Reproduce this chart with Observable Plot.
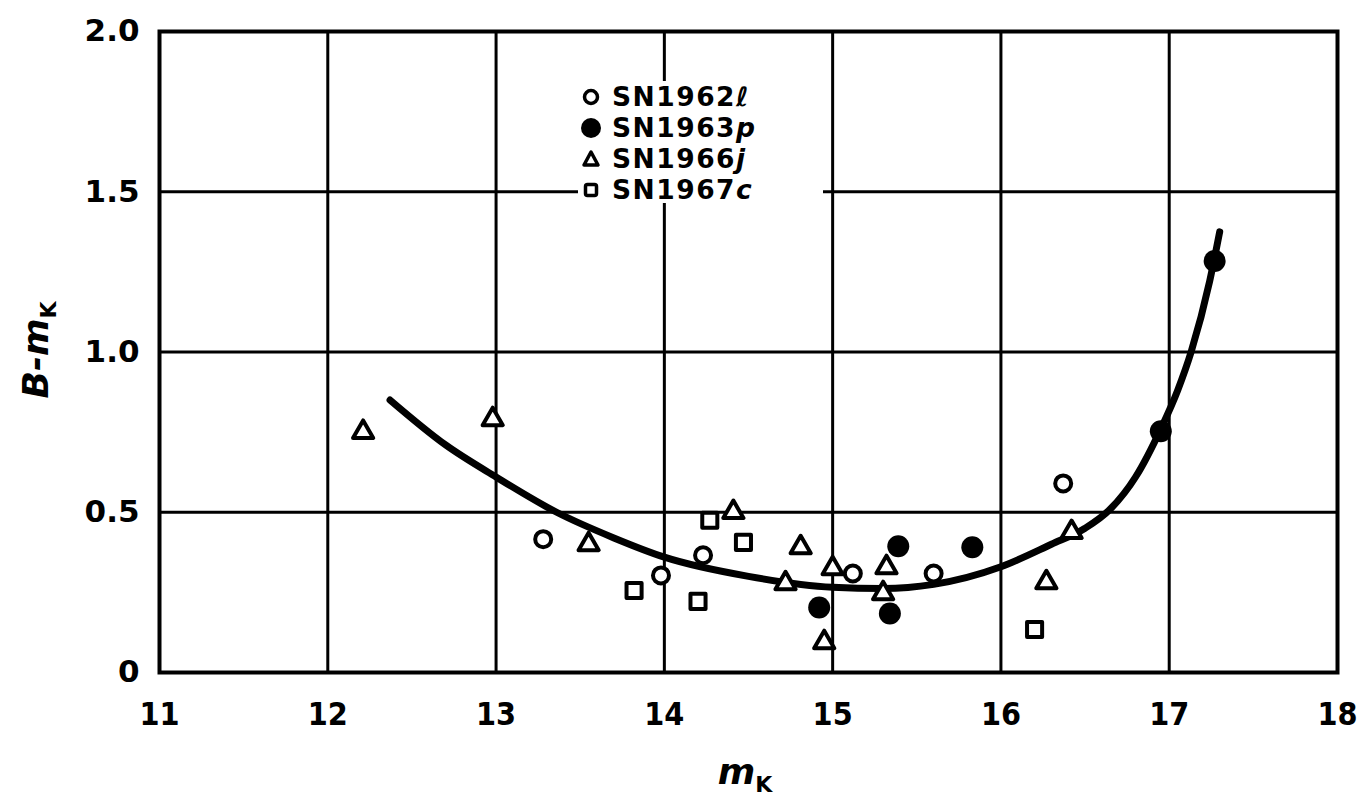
<!DOCTYPE html>
<html><head><meta charset="utf-8">
<script src="https://cdn.jsdelivr.net/npm/d3@7"></script>
<script src="https://cdn.jsdelivr.net/npm/@observablehq/plot@0.6"></script>
<style>
body{margin:0;background:#fff;}
#wrap{position:relative;width:1365px;height:802px;overflow:hidden;font-family:"DejaVu Sans",sans-serif;}
#wrap > svg{position:absolute;left:0;top:0;}
.ylab{position:absolute;left:36px;top:350px;transform:translate(-50%,-50%) rotate(-90deg);font:italic bold 36px "DejaVu Sans";line-height:40px;white-space:nowrap;}
.xlab{position:absolute;left:745px;top:772px;transform:translate(-50%,-50%);font:italic bold 36px "DejaVu Sans";line-height:40px;white-space:nowrap;}
.xlab sub,.ylab sub{font-size:22px;font-style:normal;line-height:0;}
#legend{position:absolute;left:578px;top:81px;width:245px;height:122px;background:#fff;}
.row{display:flex;align-items:center;height:31px;font:bold 26.5px "DejaVu Sans";line-height:30px;letter-spacing:1.5px;white-space:nowrap;}
#legend .row svg{position:static;display:block;width:26px;height:26px;margin-right:8px;flex:none;}
</style>
</head><body><div id="wrap"></div>
<script>
// Data
const xTicks = [11, 12, 13, 14, 15, 16, 17, 18];
const yTicks = [0, 0.5, 1.0, 1.5, 2.0];

const sn1962l_x = [13.28, 13.98, 14.23, 15.12, 15.60, 16.37];
const sn1962l_y = [0.416, 0.303, 0.366, 0.309, 0.309, 0.59];

const sn1963p_x = [14.92, 15.34, 15.39, 15.83, 16.95, 17.27];
const sn1963p_y = [0.203, 0.184, 0.394, 0.391, 0.753, 1.284];

const sn1966j_x = [12.21, 12.98, 13.55, 14.41, 14.72, 14.81, 14.95, 15.00, 15.30, 15.32, 16.27, 16.42];
const sn1966j_y = [0.75, 0.79, 0.40, 0.50, 0.278, 0.39, 0.094, 0.325, 0.247, 0.328, 0.281, 0.4375];

const sn1967c_x = [13.82, 14.20, 14.27, 14.47, 16.20];
const sn1967c_y = [0.256, 0.222, 0.475, 0.406, 0.134];

const curve_x = [12.37, 12.7, 13.0, 13.36, 13.7, 14.0, 14.5, 15.0, 15.3, 15.6, 16.0, 16.3, 16.5, 16.65, 16.8, 16.95, 17.05, 17.13, 17.24, 17.30];
const curve_y = [0.85, 0.71, 0.61, 0.50, 0.42, 0.36, 0.30, 0.266, 0.262, 0.275, 0.33, 0.40, 0.45, 0.51, 0.61, 0.76, 0.88, 1.0, 1.22, 1.375];

const legendLabels = [["SN1962", "ℓ"], ["SN1963", "p"], ["SN1966", "j"], ["SN1967", "c"]];

const toRows = (xs, ys) => xs.map((x, i) => ({x, y: ys[i]}));
const open = toRows(sn1962l_x, sn1962l_y);
const filled = toRows(sn1963p_x, sn1963p_y);
const tri = toRows(sn1966j_x, sn1966j_y);
const sq = toRows(sn1967c_x, sn1967c_y);
const fit = toRows(curve_x, curve_y);

const chart = Plot.plot({
  width: 1365, height: 802,
  marginLeft: 159, marginRight: 28, marginTop: 31, marginBottom: 130,
  style: {background: "white", color: "black"},
  x: {domain: [11, 18], ticks: xTicks},
  y: {domain: [0, 2], ticks: yTicks},
  marks: [
    Plot.gridX(xTicks, {stroke: "black", strokeOpacity: 1, strokeWidth: 3}),
    Plot.gridY(yTicks, {stroke: "black", strokeOpacity: 1, strokeWidth: 3}),
    Plot.frame({stroke: "black", strokeWidth: 4}),
    Plot.axisX(xTicks, {tickSize: 0, tickPadding: 30, fontSize: 32, fontWeight: "bold", label: null,
      fontFamily: "DejaVu Sans Condensed", tickFormat: d => String(d)}),
    Plot.axisY(yTicks, {tickSize: 0, tickPadding: 20, fontSize: 31, fontWeight: "bold", label: null,
      fontFamily: "DejaVu Sans", tickFormat: d => d === 0 ? "0" : d.toFixed(1)}),
    Plot.line(fit, {x: "x", y: "y", curve: "monotone-x", stroke: "black", strokeWidth: 7, strokeLinecap: "round"}),
    Plot.dot(open, {x: "x", y: "y", symbol: "circle", r: 8, fill: "white", stroke: "black", strokeWidth: 4}),
    Plot.dot(filled, {x: "x", y: "y", symbol: "circle", r: 11, fill: "black", stroke: "none"}),
    Plot.dot(tri, {x: "x", y: "y", symbol: "triangle", r: 7.5, fill: "white", stroke: "black", strokeWidth: 4, strokeLinejoin: "round"}),
    Plot.dot(sq, {x: "x", y: "y", symbol: "square", r: 8.5, fill: "white", stroke: "black", strokeWidth: 4, strokeLinejoin: "round"})
  ]
});

const wrap = document.getElementById("wrap");
wrap.appendChild(chart);

const yl = document.createElement("div");
yl.className = "ylab";
yl.innerHTML = "<i>B</i>-<i>m</i><sub>K</sub>";
wrap.appendChild(yl);
const xl = document.createElement("div");
xl.className = "xlab";
xl.innerHTML = "<i>m</i><sub>K</sub>";
wrap.appendChild(xl);

// Legend
const symbols = [
  '<circle cx="13" cy="13" r="6.5" fill="white" stroke="black" stroke-width="3.5"/>',
  '<circle cx="13" cy="13" r="10" fill="black"/>',
  '<path d="M13,6 L20,19 L6,19 Z" fill="white" stroke="black" stroke-width="3.5" stroke-linejoin="round"/>',
  '<rect x="7.5" y="7.5" width="11" height="11" rx="2" fill="white" stroke="black" stroke-width="3.5"/>'
];
const legend = document.createElement("div");
legend.id = "legend";
legendLabels.forEach((l, i) => {
  const r = document.createElement("div");
  r.className = "row";
  r.innerHTML = `<svg viewBox="0 0 26 26">${symbols[i]}</svg><span>${l[0]}<i>${l[1]}</i></span>`;
  legend.appendChild(r);
});
wrap.appendChild(legend);
</script>
</body></html>
